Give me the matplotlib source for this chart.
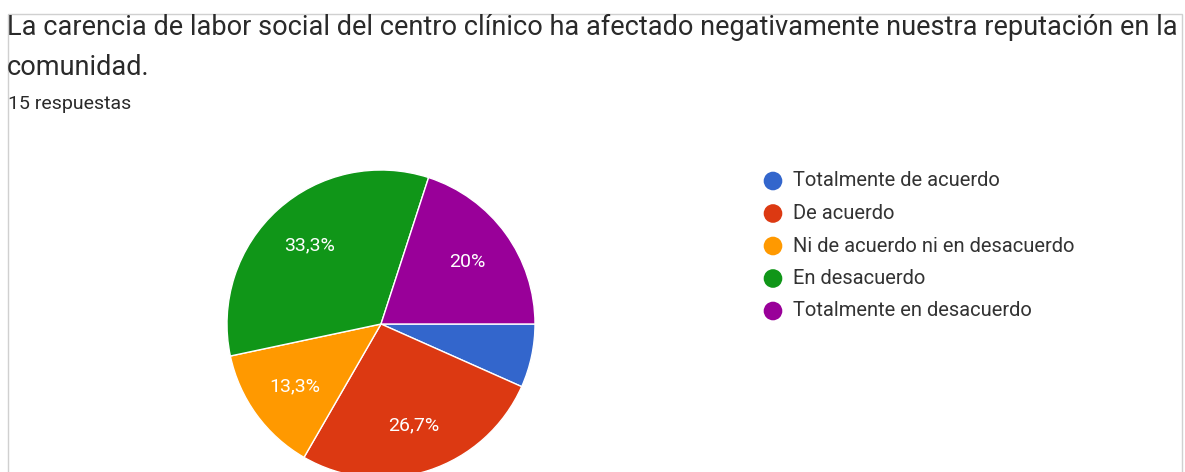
import matplotlib.pyplot as plt
from matplotlib.patches import Rectangle

# Survey answers (15 respuestas)
categories = ["Totalmente de acuerdo", "De acuerdo", "Ni de acuerdo ni en desacuerdo",
              "En desacuerdo", "Totalmente en desacuerdo"]
counts = [1, 4, 2, 5, 3]
colors = ["#3366CC", "#DC3912", "#FF9900", "#109618", "#990099"]

title_lines = ["La carencia de labor social del centro clínico ha afectado negativamente nuestra reputación en la",
               "comunidad."]
subtitle = "15 respuestas"

W, H = 1185, 472
plt.rcParams['font.family'] = ['Roboto', 'DejaVu Sans']
fig = plt.figure(figsize=(W / 100, H / 100), dpi=100)
fig.patch.set_facecolor("white")

# overlay in pixel coords for border, texts, legend
ov = fig.add_axes([0, 0, 1, 1])
ov.set_xlim(0, W)
ov.set_ylim(H, 0)
ov.axis("off")
ov.add_patch(Rectangle((8, 14), 1174, 470, fill=False, edgecolor="#d0d0d0", linewidth=1))

for i, line in enumerate(title_lines):
    ov.text(7, 35 + i * 40, line, fontsize=19.5, color="#2a2a2a", va="baseline", ha="left")
ov.text(8, 109, subtitle, fontsize=14, color="#2a2a2a", va="baseline", ha="left")

# legend
for i, (lab, col) in enumerate(zip(categories, colors)):
    y = 181 + i * 32.5
    ov.scatter([773], [y], s=180, color=col, edgecolors="none")
    ov.text(793, y, lab, fontsize=14.5, color="#333333", va="center", ha="left")

# pie
cx, cy, r = 381, 324, 154
ax = fig.add_axes([(cx - r) / W, (H - cy - r) / H, 2 * r / W, 2 * r / H])


def fmt(p):
    if p < 10:
        return ""
    s = "%.1f" % p
    if s.endswith(".0"):
        s = s[:-2]
    return s.replace(".", ",") + "%"


wedges, texts, autotexts = ax.pie(counts, colors=colors, startangle=0, counterclock=False,
                                  autopct=fmt, pctdistance=0.69,
                                  wedgeprops=dict(edgecolor="white", linewidth=1))
for t in autotexts:
    t.set_color("white")
    t.set_fontsize(14)
ax.set_xlim(-1, 1)
ax.set_ylim(-1, 1)
ax.set_aspect("equal")

fig.savefig("out.png", dpi=100, facecolor="white")
